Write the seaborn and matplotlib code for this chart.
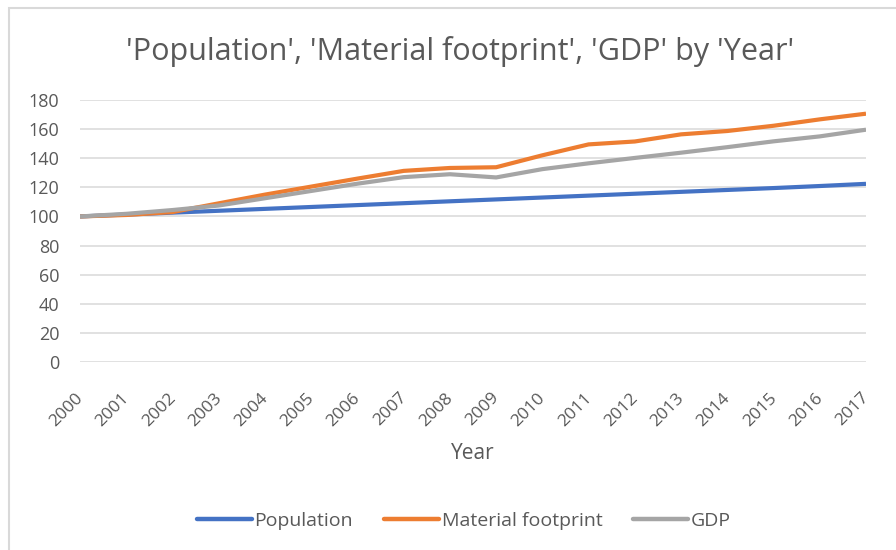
import matplotlib
matplotlib.use("Agg")
import matplotlib.pyplot as plt
import matplotlib.transforms as mtransforms
from matplotlib.patches import Rectangle
import pandas as pd
import seaborn as sns

years = list(range(2000, 2018))
population = [100.0, 101.3, 102.6, 103.9, 105.2, 106.5, 107.8, 109.1, 110.4,
              111.7, 113.0, 114.3, 115.6, 116.9, 118.2, 119.5, 120.9, 122.4]
material_footprint = [100.0, 101.0, 103.0, 109.0, 115.0, 120.5, 126.0, 131.3, 133.3,
                      133.8, 142.0, 149.5, 151.5, 156.4, 158.7, 162.3, 166.7, 170.6]
gdp = [100.0, 101.8, 104.4, 107.5, 112.5, 117.5, 122.5, 127.0, 129.0,
       126.8, 132.5, 136.5, 140.2, 143.8, 147.6, 151.6, 155.0, 159.6]
series_names = ["Population", "Material footprint", "GDP"]
y_ticks = list(range(0, 181, 20))

df = pd.DataFrame({"Year": years, "Population": population,
                   "Material footprint": material_footprint, "GDP": gdp})
long_df = df.melt(id_vars="Year", value_vars=series_names,
                  var_name="Series", value_name="Value")

sns.set_theme(style="white")
plt.rcParams["font.family"] = ["Open Sans", "DejaVu Sans"]

text_color = "#595959"
palette = {"Population": "#4472C4", "Material footprint": "#ED7D31", "GDP": "#A5A5A5"}

fig = plt.figure(figsize=(8.96, 5.5), dpi=100)
ax = fig.add_axes([80 / 896, 1 - 362 / 550, (866 - 80) / 896, 262 / 550])

sns.lineplot(data=long_df, x="Year", y="Value", hue="Series", hue_order=series_names,
             palette=palette, linewidth=3.0, ax=ax, legend=True)
for line in ax.lines:
    line.set_solid_capstyle("butt")
    line.set_solid_joinstyle("round")

ax.set_xlim(2000, 2017)
ax.set_ylim(0, 180)
ax.set_yticks(y_ticks)
ax.set_xticks(years)
ax.set_xticklabels([str(y) for y in years], rotation=45, ha="right",
                   rotation_mode="anchor", fontsize=12.5, color=text_color)
ax.set_yticklabels([str(v) for v in y_ticks], fontsize=13, color=text_color)
ax.tick_params(axis="x", length=0, pad=20)
ax.tick_params(axis="y", length=0, pad=15)
# nudge the slanted year labels slightly left so they end under their ticks
shift = mtransforms.ScaledTranslation(-5 / 100, 0, fig.dpi_scale_trans)
for lbl in ax.get_xticklabels():
    lbl.set_transform(lbl.get_transform() + shift)
ax.yaxis.grid(True, color="#D9D9D9", linewidth=1.1)
ax.xaxis.grid(False)
ax.set_axisbelow(True)
for side in ["top", "right", "left", "bottom"]:
    ax.spines[side].set_visible(False)

ax.set_xlabel("Year", fontsize=15, color=text_color, labelpad=10)
ax.set_ylabel("")

fig.suptitle("'Population', 'Material footprint', 'GDP' by 'Year'",
             x=460 / 896, y=1 - 52 / 550, va="center",
             fontsize=22, color=text_color)

handles, labels = ax.get_legend_handles_labels()
ax.get_legend().remove()
leg = fig.legend(handles, labels, loc="center", bbox_to_anchor=(464 / 896, 1 - 521 / 550),
                 ncol=3, frameon=False, fontsize=14, handlelength=2.8,
                 handletextpad=0.15, columnspacing=1.6)
for txt in leg.get_texts():
    txt.set_color(text_color)
for h in leg.legend_handles:
    h.set_linewidth(3.2)
    h.set_solid_capstyle("round")

# chart frame: only left and top edges fall inside the canvas
fig.add_artist(Rectangle((9 / 896, -0.1), 1.2, 1.1 - 8 / 550,
                         transform=fig.transFigure, fill=False,
                         edgecolor="#D9D9D9", linewidth=1.5))

fig.savefig("out.png", dpi=100, facecolor="white")
